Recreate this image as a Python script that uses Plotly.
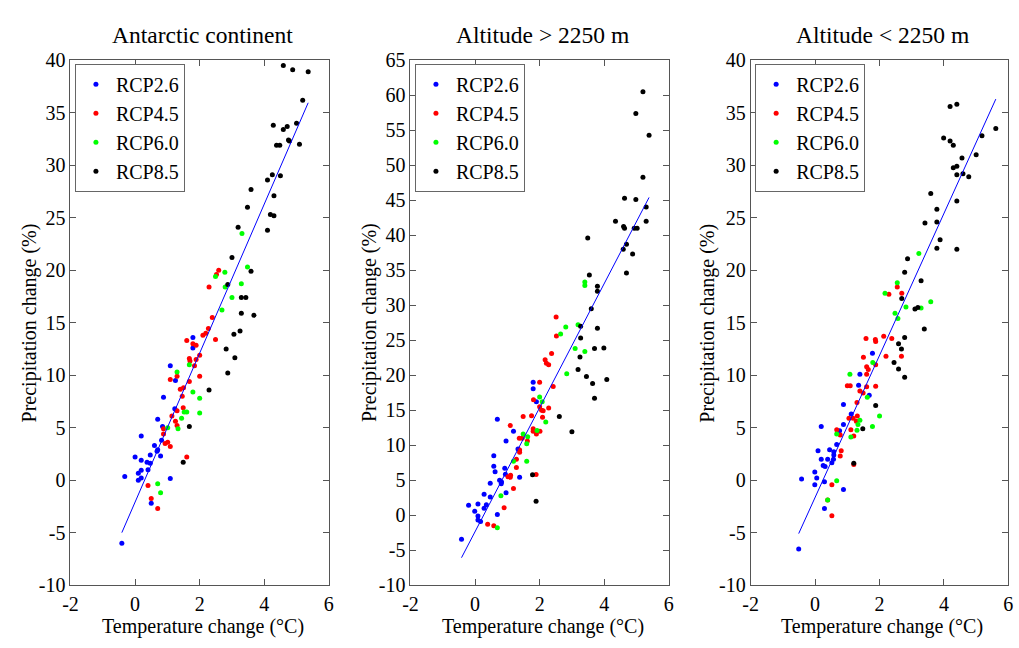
import plotly.graph_objects as go

W, H = 1019, 648

titles = ["Antarctic continent", "Altitude > 2250 m", "Altitude < 2250 m"]
series_names = ["RCP2.6", "RCP4.5", "RCP6.0", "RCP8.5"]
series_colors = ["#0000ff", "#ff0000", "#00ff00", "#000000"]
x_ticks = [-2, 0, 2, 4, 6]
y_ticks_a = [-10, -5, 0, 5, 10, 15, 20, 25, 30, 35, 40]
y_ticks_b = [-10, -5, 0, 5, 10, 15, 20, 25, 30, 35, 40, 45, 50, 55, 60, 65]

# ---- Panel 1: Antarctic continent ----
p1_rcp26 = [(1.79, 13.6), (1.79, 12.6), (1.09, 10.9), (1.25, 9.5), (0.88, 7.9), (1.23, 6.8), (0.70, 5.8),
            (0.85, 5.1), (0.82, 3.8), (0.19, 4.2), (0.60, 3.3), (0.70, 2.9), (0.68, 2.75), (0.47, 2.4),
            (0.79, 2.3), (0.0, 2.2), (0.19, 1.9), (0.37, 1.7), (0.47, 1.6), (0.19, 0.95), (0.40, 1.0),
            (0.10, 0.65), (0.19, 0.2), (0.10, 0.0), (-0.32, 0.35), (1.09, 0.15), (0.50, -2.2), (-0.41, -6.0)]
p1_rcp45 = [(2.59, 20.0), (2.52, 19.6), (2.29, 18.4), (2.39, 15.5), (2.27, 14.45), (2.19, 14.0), (2.10, 13.8),
            (2.49, 13.4), (1.60, 13.3), (1.79, 13.0), (1.89, 12.85), (1.68, 11.6), (1.70, 11.35), (1.89, 11.5),
            (1.84, 10.9), (2.0, 11.9), (1.09, 9.6), (1.30, 9.9), (1.68, 9.4), (2.0, 9.9), (1.40, 8.65),
            (1.50, 8.8), (1.46, 8.0), (1.14, 6.1), (1.30, 6.6), (1.49, 6.9), (1.25, 5.6), (1.30, 5.2),
            (0.88, 4.9), (0.88, 4.4), (0.93, 3.5), (1.01, 3.6), (1.09, 3.2), (1.60, 2.2), (0.40, -0.5),
            (0.50, -1.75), (0.70, -2.7)]
p1_rcp60 = [(3.31, 23.5), (2.78, 19.8), (2.49, 19.4), (3.48, 20.3), (2.79, 18.4), (3.29, 18.7), (3.0, 17.4),
            (2.69, 16.2), (1.30, 10.3), (1.68, 11.0), (1.79, 8.4), (2.0, 7.8), (2.0, 6.4), (1.52, 6.5),
            (1.60, 6.5), (1.44, 5.9), (1.01, 5.0), (1.33, 4.9), (0.70, -0.34), (0.79, -1.2)]
p1_rcp85 = [(4.59, 39.5), (4.88, 39.1), (5.36, 38.9), (5.19, 36.2), (4.28, 33.8), (4.59, 33.4), (4.71, 33.7),
            (5.0, 34.0), (4.38, 31.9), (4.48, 31.9), (4.75, 32.4), (4.78, 32.3), (5.09, 32.0), (4.10, 28.6),
            (4.25, 29.1), (4.50, 29.0), (3.59, 27.7), (4.30, 27.1), (3.48, 26.0), (4.19, 25.3), (4.30, 25.2),
            (3.19, 24.1), (4.10, 23.8), (3.0, 21.2), (3.59, 19.9), (2.87, 18.65), (3.29, 17.4), (3.43, 17.4),
            (3.29, 15.9), (3.68, 15.7), (3.25, 14.2), (3.06, 13.9), (2.82, 12.5), (3.09, 11.65), (2.87, 10.2),
            (2.29, 8.6), (1.68, 5.1), (1.49, 1.7)]
p1_fit_x = [-0.41, 5.36]
p1_fit_y = [-5.0, 35.95]

# ---- Panel 2: Altitude > 2250 m ----
p2_rcp26 = [(1.80, 19.0), (1.80, 18.06), (1.90, 16.2), (0.69, 13.7), (1.19, 12.0), (0.96, 10.6), (1.33, 9.45),
            (0.58, 8.5), (0.58, 7.0), (0.92, 6.7), (0.62, 6.2), (0.94, 5.85), (1.38, 5.4), (0.76, 5.0),
            (0.82, 4.75), (0.81, 4.5), (0.47, 4.55), (0.28, 3.0), (0.96, 3.2), (0.47, 2.6), (0.35, 1.5),
            (-0.20, 1.4), (0.09, 1.6), (0.28, 0.97), (-0.01, 0.55), (0.09, -0.14), (0.09, -0.7), (0.17, -0.9),
            (0.69, 0.1), (-0.42, -3.45)]
p2_rcp45 = [(2.51, 28.3), (2.52, 25.6), (2.37, 23.1), (2.17, 22.2), (2.21, 21.7), (2.28, 21.5), (2.42, 18.4),
            (2.0, 19.0), (1.81, 16.5), (2.0, 15.5), (2.06, 15.0), (2.11, 14.9), (2.28, 15.3), (2.09, 14.0),
            (1.75, 14.2), (1.49, 14.1), (1.09, 12.8), (1.80, 12.35), (1.80, 12.0), (2.01, 12.0), (1.90, 11.6),
            (1.37, 11.0), (1.46, 11.0), (1.62, 10.6), (1.38, 9.3), (1.38, 9.0), (1.28, 8.0), (1.28, 6.8),
            (1.02, 5.5), (1.10, 5.7), (1.09, 5.4), (1.89, 5.8), (1.19, 3.8), (0.90, 1.06), (0.39, -1.3),
            (0.58, -1.5)]
p2_rcp60 = [(3.40, 33.3), (3.40, 32.8), (3.19, 27.2), (2.81, 26.9), (2.65, 25.9), (3.10, 23.8), (3.40, 23.4),
            (2.84, 20.2), (2.0, 16.9), (2.08, 16.2), (2.19, 13.3), (1.49, 11.6), (1.63, 11.2), (1.60, 10.2),
            (1.92, 12.1), (1.60, 7.7), (1.19, 7.7), (0.80, 2.76), (0.69, -1.8)]
p2_rcp85 = [(5.20, 60.5), (4.98, 57.4), (5.39, 54.3), (5.20, 48.3), (4.63, 45.3), (4.98, 45.1), (5.30, 44.05),
            (4.35, 42.0), (5.30, 42.0), (4.60, 41.25), (4.63, 41.0), (4.93, 41.0), (5.02, 41.0), (4.69, 38.7),
            (4.59, 38.0), (4.88, 37.3), (3.49, 39.6), (3.54, 34.3), (4.69, 34.6), (3.79, 32.7), (3.79, 32.0),
            (3.60, 29.5), (3.27, 27.0), (3.79, 26.7), (3.27, 25.3), (3.25, 22.6), (3.70, 23.8), (3.99, 23.9),
            (3.19, 20.8), (3.45, 19.8), (3.64, 18.8), (4.08, 19.4), (3.70, 16.7), (2.61, 14.1), (3.0, 11.9),
            (1.78, 5.76), (1.89, 2.0)]
p2_fit_x = [-0.42, 5.39]
p2_fit_y = [-6.08, 45.4]

# ---- Panel 3: Altitude < 2250 m ----
p3_rcp26 = [(1.78, 12.1), (1.39, 10.1), (1.35, 9.05), (1.68, 8.1), (0.88, 7.2), (1.12, 6.3), (0.88, 5.3),
            (0.19, 5.1), (0.76, 4.7), (0.67, 3.4), (0.45, 2.9), (0.09, 2.8), (0.58, 2.7), (0.58, 2.4),
            (0.57, 2.0), (0.39, 2.0), (0.19, 2.0), (0.52, 1.65), (0.25, 1.4), (0.31, 1.3), (-0.01, 0.77),
            (0.05, 0.2), (-0.42, 0.1), (-0.01, -0.43), (0.29, -0.15), (0.88, -0.9), (0.29, -2.7), (-0.51, -6.56)]
p3_rcp45 = [(2.55, 18.4), (2.29, 17.7), (2.69, 17.8), (2.13, 13.7), (1.58, 13.5), (1.87, 13.4), (2.38, 13.5),
            (1.88, 13.2), (1.50, 11.7), (2.20, 11.8), (2.68, 11.8), (1.60, 10.8), (1.65, 10.55), (1.88, 11.0),
            (1.60, 10.1), (1.0, 9.0), (1.09, 9.0), (1.60, 8.9), (1.88, 8.95), (1.39, 8.5), (1.49, 8.3),
            (1.30, 7.4), (1.05, 5.9), (1.18, 5.9), (1.31, 6.1), (1.28, 5.6), (0.67, 4.8), (1.11, 4.8),
            (0.78, 4.3), (1.20, 4.2), (0.81, 2.8), (0.78, 2.3), (1.20, 1.5), (0.52, -0.43), (0.39, -1.9),
            (0.52, -3.4)]
p3_rcp60 = [(3.22, 21.6), (2.55, 18.8), (2.17, 17.8), (3.59, 17.0), (2.82, 16.5), (3.29, 16.4), (2.48, 15.9),
            (2.57, 15.4), (1.79, 11.2), (1.08, 10.1), (1.62, 7.9), (2.0, 6.1), (1.78, 5.1), (1.39, 5.7),
            (1.33, 5.3), (1.30, 4.75), (0.67, 4.4), (1.11, 4.1), (0.67, -0.06), (0.39, -1.9)]
p3_rcp85 = [(4.40, 35.8), (4.19, 35.6), (5.61, 33.5), (5.18, 32.8), (3.99, 32.6), (4.19, 32.3), (4.29, 31.9),
            (5.0, 31.0), (4.56, 30.7), (4.40, 29.9), (4.29, 29.75), (4.40, 29.1), (4.59, 29.2), (4.77, 28.9),
            (3.59, 27.3), (4.40, 26.6), (3.78, 25.8), (3.78, 24.6), (3.41, 24.5), (3.88, 22.9), (3.78, 22.1),
            (4.40, 22.0), (2.87, 21.1), (2.78, 19.8), (3.29, 19.0), (2.69, 17.3), (3.10, 16.3), (3.19, 16.45),
            (3.39, 14.4), (2.78, 13.6), (2.59, 13.0), (2.68, 12.5), (2.45, 11.2), (2.59, 10.6), (2.78, 9.8),
            (1.88, 7.1), (1.48, 4.9), (1.20, 1.6)]
p3_fit_x = [-0.51, 5.61]
p3_fit_y = [-5.09, 36.3]

panels = [
    dict(series=[p1_rcp26, p1_rcp45, p1_rcp60, p1_rcp85], fx=p1_fit_x, fy=p1_fit_y, yr=[-10, 40], yt=y_ticks_a),
    dict(series=[p2_rcp26, p2_rcp45, p2_rcp60, p2_rcp85], fx=p2_fit_x, fy=p2_fit_y, yr=[-10, 65], yt=y_ticks_b),
    dict(series=[p3_rcp26, p3_rcp45, p3_rcp60, p3_rcp85], fx=p3_fit_x, fy=p3_fit_y, yr=[-10, 40], yt=y_ticks_a),
]

# pixel layout (page coordinates) of the three axes boxes
x_px = [(63.3, 325.0), (407.7, 669.3), (752.3, 1013.3)]
y_px = (51.0, 594.3)
ylab_px = [22, 366, 709]

FONT = "Liberation Serif"
AXC = "#555555"

fig = go.Figure()
layout = dict(
    width=W, height=H, margin=dict(l=0, r=0, t=0, b=0, pad=0),
    paper_bgcolor="white", plot_bgcolor="white",
    font=dict(family=FONT, size=20, color="black"),
    showlegend=True, annotations=[],
)

def px2x(p):
    return p / W

def px2y(p):
    return 1 - p / H

def labels(vals):
    return [str(v) for v in vals]

for i, pnl in enumerate(panels):
    k = "" if i == 0 else str(i + 1)
    xa, ya = "x" + k, "y" + k
    leg = "legend" + k
    for pts, name, col in zip(pnl["series"], series_names, series_colors):
        fig.add_trace(go.Scatter(
            x=[p[0] for p in pts], y=[p[1] for p in pts], mode="markers", name=name,
            marker=dict(color=col, size=5, line=dict(width=0)),
            xaxis=xa, yaxis=ya, legend=leg))
    fig.add_trace(go.Scatter(x=pnl["fx"], y=pnl["fy"], mode="lines",
                             line=dict(color="#0000ff", width=1), showlegend=False,
                             xaxis=xa, yaxis=ya, legend=leg))
    axcommon = dict(showgrid=False, zeroline=False, showline=True, linecolor=AXC, linewidth=1,
                    mirror="ticks", ticks="inside", ticklen=6, tickcolor=AXC, tickwidth=1,
                    tickfont=dict(family=FONT, size=20, color="black"))
    layout["xaxis" + k] = dict(domain=[px2x(x_px[i][0]), px2x(x_px[i][1])], range=[-2, 6],
                               tickvals=x_ticks, ticktext=labels(x_ticks), anchor=ya,
                               ticklabelstandoff=1, **axcommon)
    layout["yaxis" + k] = dict(domain=[px2y(y_px[1]), px2y(y_px[0])], range=pnl["yr"],
                               tickvals=pnl["yt"], ticktext=labels(pnl["yt"]), anchor=xa,
                               ticklabelstandoff=0, **axcommon)
    layout[leg] = dict(x=px2x(x_px[i][0] + 4.5), y=px2y(y_px[0] + 3.5), xanchor="left", yanchor="top",
                       bgcolor="white", bordercolor="#666666", borderwidth=1,
                       font=dict(family=FONT, size=20, color="black"),
                       tracegroupgap=0)
    cx = (x_px[i][0] + x_px[i][1]) / 2 + 3
    layout["annotations"].append(dict(text=titles[i], x=px2x(cx), y=px2y(25), xref="paper", yref="paper",
                                      showarrow=False, font=dict(family=FONT, size=23.5, color="black"),
                                      xanchor="center", yanchor="middle"))
    layout["annotations"].append(dict(text="Temperature change (°C)", x=px2x(cx), y=px2y(637),
                                      xref="paper", yref="paper", showarrow=False,
                                      font=dict(family=FONT, size=20, color="black"),
                                      xanchor="center", yanchor="middle"))
    layout["annotations"].append(dict(text="Precipitation change (%)", x=px2x(ylab_px[i]),
                                      y=px2y((y_px[0] + y_px[1]) / 2), xref="paper", yref="paper",
                                      showarrow=False, textangle=-90,
                                      font=dict(family=FONT, size=20, color="black"),
                                      xanchor="center", yanchor="middle"))

fig.update_layout(**layout)
# remove the browser's default page margin so the figure sits at the window's top-left corner
fig.write_html("out.html", config={"displayModeBar": False},
               post_script="document.body.style.margin='0';document.body.style.overflow='hidden';")
